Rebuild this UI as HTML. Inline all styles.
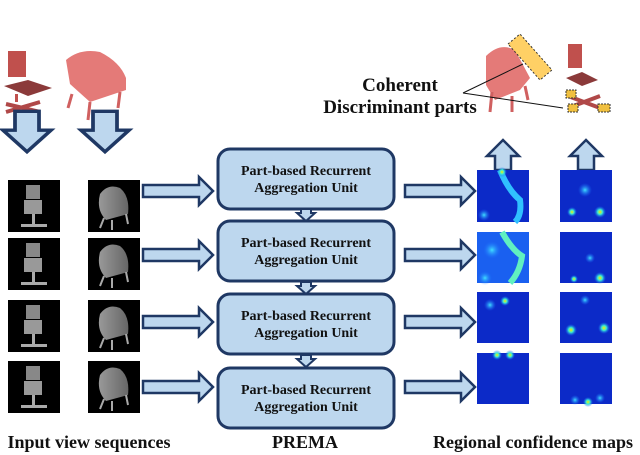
<!DOCTYPE html>
<html><head><meta charset="utf-8"><style>
body{margin:0;background:#fff;}
svg{display:block;}
text{font-family:"Liberation Serif",serif;font-weight:bold;fill:#111;}
</style></head><body>
<svg width="640" height="455" viewBox="0 0 640 455" xmlns="http://www.w3.org/2000/svg">
<defs>
<radialGradient id="hy"><stop offset="0" stop-color="#ffe800"/><stop offset="0.4" stop-color="#3cf0d0"/><stop offset="1" stop-color="#1060ff" stop-opacity="0"/></radialGradient>
<radialGradient id="hc"><stop offset="0" stop-color="#40e0ff"/><stop offset="1" stop-color="#1a6aff" stop-opacity="0"/></radialGradient>
<linearGradient id="gg" x1="0" x2="1"><stop offset="0" stop-color="#999"/><stop offset="1" stop-color="#666"/></linearGradient>
<g id="harr"><polygon points="0,-6 56,-6 56,-14 70,0 56,14 56,6 0,6" fill="#bdd7ee" stroke="#1f3864" stroke-width="2.5"/></g>
<g id="uarr"><polygon points="-8,22 -8,8 -16,8 0,-8 16,8 8,8 8,22" fill="#bdd7ee" stroke="#1f3864" stroke-width="2.5"/></g>
<g id="box"><rect x="0" y="0" width="176" height="60" rx="12" fill="#bdd7ee" stroke="#1f3864" stroke-width="3"/>
<text x="88" y="26" font-size="14" text-anchor="middle">Part-based Recurrent</text>
<text x="88" y="43" font-size="14" text-anchor="middle">Aggregation Unit</text></g>
<g id="vd"><polygon points="-5,0 5,0 5,4 9,4 0,12 -9,4 -5,4" fill="#bdd7ee" stroke="#1f3864" stroke-width="2"/></g>
<g id="oc"><rect width="52" height="52" fill="#000"/><rect x="18" y="5" width="14" height="14" fill="#888"/><rect x="16" y="20" width="18" height="14" fill="#999"/><rect x="24" y="34" width="3" height="12" fill="#aaa"/><rect x="13" y="44" width="26" height="3" fill="#aaa"/></g>
<g id="ac"><rect width="52" height="52" fill="#000"/><path d="M12,14 Q20,3 32,8 Q42,16 40,34 L18,40 Q8,30 12,14Z" fill="url(#gg)"/><path d="M16,38 L12,48 M24,40 L24,50 M38,34 L40,44" stroke="#aaa" stroke-width="2"/></g>
</defs>

<g fill="#c0504d">
<rect x="8" y="51" width="18" height="26" fill="#c0504d"/>
<polygon points="4,86 28,80 52,88 28,96" fill="#8b3a3a"/>
<rect x="15" y="94" width="3" height="8"/>
<path d="M6,104 L40,112 M6,112 L40,102" stroke="#b04848" stroke-width="4"/>
<path d="M66,60 Q80,48 100,52 Q120,62 126,78 L126,90 L90,102 L70,84Z" fill="#e47a78"/>
<path d="M72,94 L68,108 M90,102 L88,120 M120,92 L118,108" stroke="#d06060" stroke-width="3"/>
</g>
<use href="#uarr" transform="translate(27,141) rotate(180) scale(1.5,1.35)"/>
<use href="#uarr" transform="translate(105,141) rotate(180) scale(1.5,1.35)"/>

<path d="M486,56 Q500,42 515,50 L530,78 L520,90 L495,100 L486,85Z" fill="#e47a78"/>
<path d="M492,92 L490,112 M512,96 L512,112 M525,86 L528,100" stroke="#d06060" stroke-width="3"/>
<polygon points="508,44 520,34 552,70 540,80" fill="#ffc84a" fill-opacity="0.85" stroke="#333" stroke-width="1" stroke-dasharray="2,2"/>
<rect x="568" y="44" width="14" height="24" fill="#c0504d"/>
<polygon points="566,78 582,72 598,80 582,86" fill="#8b3a3a"/>
<path d="M568,96 L600,108 M568,108 L600,96" stroke="#b04848" stroke-width="4"/>
<rect x="566" y="90" width="10" height="8" fill="#f0c040" stroke="#333" stroke-width="1" stroke-dasharray="2,1"/>
<rect x="568" y="104" width="10" height="8" fill="#f0c040" stroke="#333" stroke-width="1" stroke-dasharray="2,1"/>
<rect x="598" y="104" width="12" height="8" fill="#f0c040" stroke="#333" stroke-width="1" stroke-dasharray="2,1"/>
<path d="M463,93 L523,64 M463,93 L563,108" stroke="#111" stroke-width="1"/>
<text x="400" y="91" font-size="19" text-anchor="middle">Coherent</text>
<text x="400" y="113" font-size="19" text-anchor="middle">Discriminant parts</text>

<use href="#oc" x="8" y="180"/><use href="#ac" x="88" y="180"/>
<use href="#oc" x="8" y="238"/><use href="#ac" x="88" y="238"/>
<use href="#oc" x="8" y="300"/><use href="#ac" x="88" y="300"/>
<use href="#oc" x="8" y="361"/><use href="#ac" x="88" y="361"/>

<use href="#harr" x="143" y="191"/><use href="#harr" x="143" y="255"/>
<use href="#harr" x="143" y="322"/><use href="#harr" x="143" y="387"/>
<use href="#harr" x="405" y="191"/><use href="#harr" x="405" y="255"/>
<use href="#harr" x="405" y="322"/><use href="#harr" x="405" y="387"/>

<use href="#box" x="218" y="149"/>
<use href="#box" x="218" y="221"/>
<use href="#box" x="218" y="294"/>
<use href="#box" x="218" y="368"/>
<use href="#vd" x="306" y="209"/><use href="#vd" x="306" y="282"/><use href="#vd" x="306" y="355"/>

<use href="#uarr" x="503" y="148"/><use href="#uarr" x="586" y="148"/>
<g>
<rect x="477" y="170" width="52" height="52" fill="#0c2ac8"/>
<path d="M500,170 Q508,190 520,200 Q522,215 515,222" stroke="#30c0ff" stroke-width="6" fill="none"/>
<circle cx="502" cy="172" r="5" fill="url(#hy)"/><circle cx="484" cy="215" r="6" fill="url(#hc)"/>
<rect x="560" y="170" width="52" height="52" fill="#0c2ac8"/>
<circle cx="572" cy="212" r="5" fill="url(#hy)"/><circle cx="600" cy="212" r="6" fill="url(#hy)"/><circle cx="585" cy="190" r="7" fill="url(#hc)"/>

<rect x="477" y="232" width="52" height="51" fill="#1a60f0"/>
<path d="M502,232 Q512,250 522,256 Q520,272 510,283" stroke="#60f0c0" stroke-width="6" fill="none"/>
<circle cx="485" cy="278" r="7" fill="url(#hc)"/><circle cx="492" cy="250" r="9" fill="url(#hc)"/>
<rect x="560" y="232" width="52" height="51" fill="#0c2ac8"/>
<circle cx="600" cy="278" r="6" fill="url(#hy)"/><circle cx="574" cy="279" r="4" fill="url(#hy)"/><circle cx="590" cy="258" r="5" fill="url(#hc)"/>

<rect x="477" y="292" width="52" height="51" fill="#0c2ac8"/>
<circle cx="505" cy="301" r="5" fill="url(#hy)"/><circle cx="490" cy="305" r="6" fill="url(#hc)"/>
<rect x="560" y="292" width="52" height="51" fill="#0c2ac8"/>
<circle cx="571" cy="330" r="6" fill="url(#hy)"/><circle cx="604" cy="328" r="6" fill="url(#hy)"/><circle cx="585" cy="300" r="5" fill="url(#hc)"/>

<rect x="477" y="353" width="52" height="51" fill="#0c2ac8"/>
<circle cx="497" cy="355" r="5" fill="url(#hy)"/><circle cx="510" cy="355" r="5" fill="url(#hy)"/>
<rect x="560" y="353" width="52" height="51" fill="#0c2ac8"/>
<circle cx="588" cy="402" r="5" fill="url(#hy)"/><circle cx="600" cy="398" r="5" fill="url(#hc)"/><circle cx="575" cy="400" r="5" fill="url(#hc)"/>
</g>

<text x="89" y="448" font-size="18" text-anchor="middle">Input view sequences</text>
<text x="305" y="448" font-size="18" text-anchor="middle">PREMA</text>
<text x="533" y="448" font-size="18" text-anchor="middle">Regional confidence maps</text>
</svg>
</body></html>
